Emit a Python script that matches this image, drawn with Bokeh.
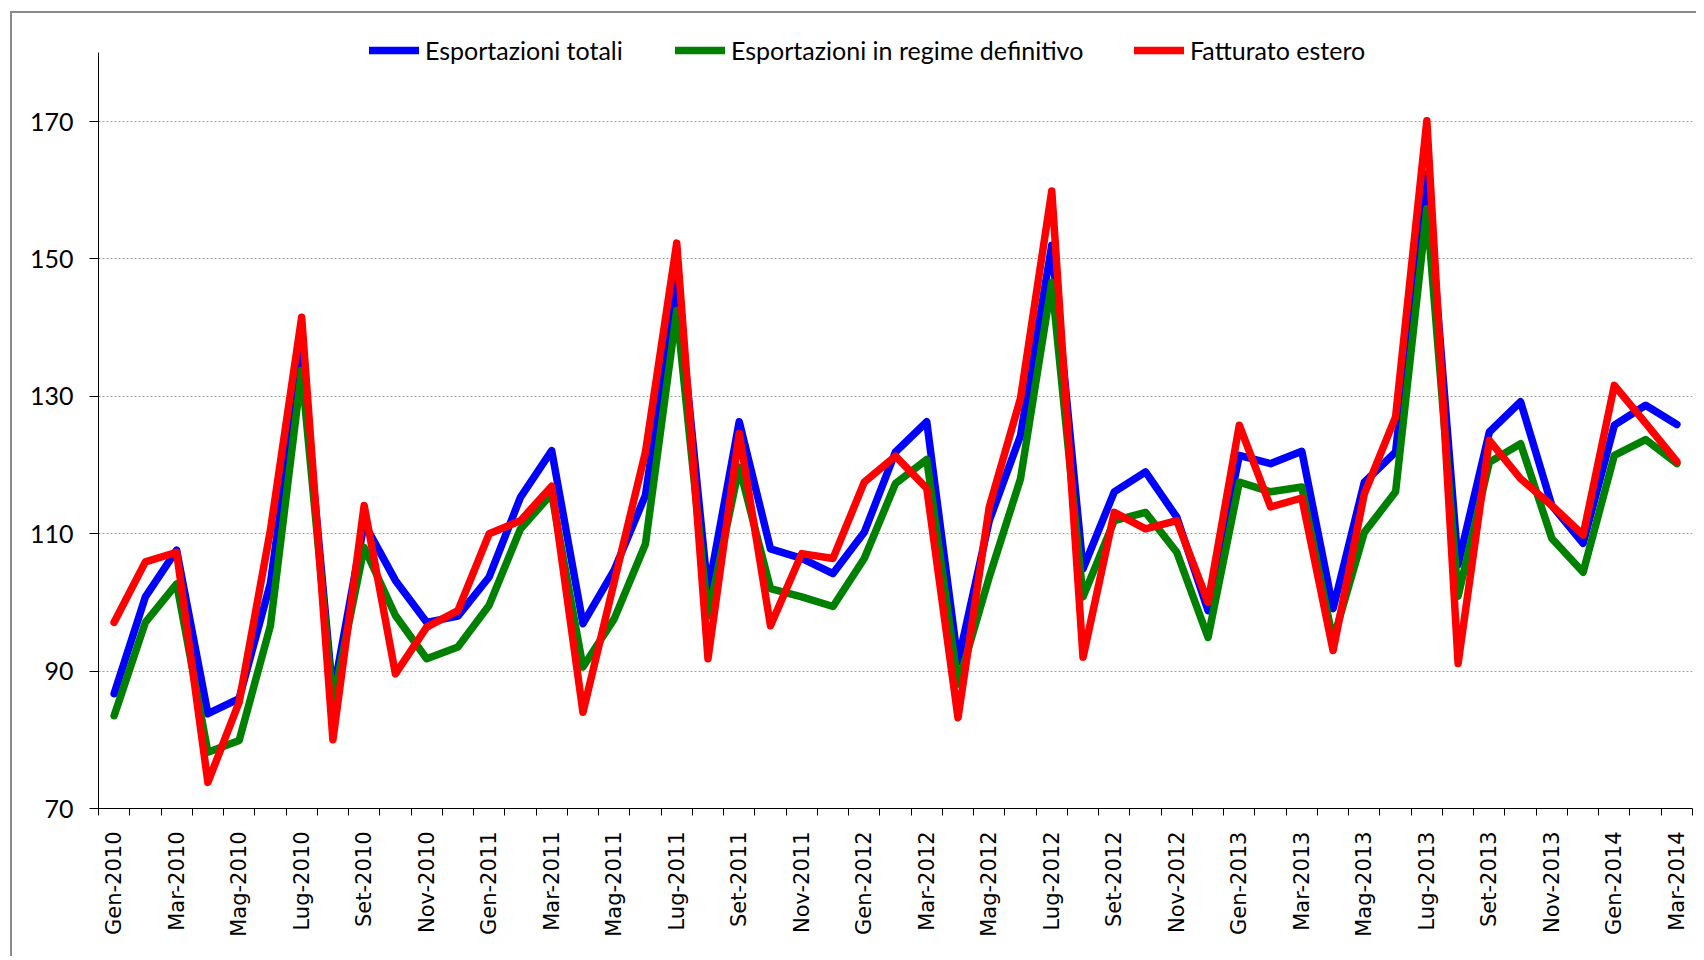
import numpy as np
from bokeh.plotting import figure
from bokeh.models import Range1d, FixedTicker, Legend, LegendItem
from bokeh.embed import file_html
from bokeh.resources import INLINE

# ---------------- data ----------------
month_names = ["Gen", "Feb", "Mar", "Apr", "Mag", "Giu",
               "Lug", "Ago", "Set", "Ott", "Nov", "Dic"]
years = [2010, 2011, 2012, 2013, 2014]
months = [f"{m}-{y}" for y in years for m in month_names][:51]

esportazioni_totali = [
    86.7, 100.8, 107.6, 83.8, 86.0, 102.8, 136.0, 86.5, 111.5, 103.2, 97.1, 98.0,
    103.7, 115.3, 122.1, 96.9, 104.7, 115.6, 146.9, 101.5, 126.3, 107.8, 106.4, 104.2,
    110.2, 121.9, 126.3, 91.3, 111.9, 124.3, 152.0, 104.9, 116.1, 119.0, 112.4, 98.8,
    121.4, 120.2, 122.0, 99.1, 117.5, 121.9, 162.4, 105.5, 124.8, 129.2, 114.1, 108.6,
    125.8, 128.7, 125.9]

esportazioni_definitivo = [
    83.5, 97.1, 102.7, 78.2, 79.9, 96.6, 133.8, 85.5, 108.0, 98.1, 91.8, 93.5,
    99.6, 110.7, 115.8, 90.6, 97.6, 108.5, 142.5, 98.0, 119.7, 102.0, 100.8, 99.4,
    106.4, 117.3, 120.8, 88.1, 103.7, 118.0, 146.6, 100.8, 111.9, 113.1, 107.3, 94.9,
    117.5, 116.1, 116.8, 94.5, 110.2, 116.1, 157.3, 100.9, 120.4, 123.1, 109.3, 104.4,
    121.4, 123.7, 120.2]

fatturato_estero = [
    97.1, 105.9, 107.3, 73.8, 85.5, 110.5, 141.5, 80.0, 114.1, 89.6, 96.4, 98.8,
    110.0, 111.9, 116.9, 84.0, 103.0, 121.9, 152.3, 91.8, 124.6, 96.6, 107.1, 106.4,
    117.5, 121.3, 116.6, 83.2, 113.9, 129.7, 159.9, 92.0, 113.1, 110.7, 111.9, 100.0,
    125.8, 113.9, 115.2, 93.0, 115.8, 127.0, 170.1, 91.1, 123.6, 118.0, 114.1, 109.8,
    131.6, 126.1, 120.5]

series_names = ["Esportazioni totali", "Esportazioni in regime definitivo", "Fatturato estero"]
series_colors = ["#0000FF", "#008000", "#FF0000"]
y_ticks = [70, 90, 110, 130, 150, 170]
y_min, y_max = 70, 180

# ---------------- figure ----------------
x = list(range(len(months)))

p = figure(width=1686, height=945,
           x_range=Range1d(-0.5, len(months) - 0.5),
           y_range=Range1d(y_min, 183.25),
           output_backend="svg", toolbar_location=None,
           min_border_left=86, min_border_right=6,
           min_border_top=17, min_border_bottom=150)
p.styles = {"margin-left": "10px", "margin-top": "11px",
            "border-left": "2px solid #8a8a8a", "border-top": "2px solid #8a8a8a"}
p.outline_line_color = None
p.background_fill_color = "white"
p.border_fill_color = "white"

# grid
p.xgrid.visible = False
p.ygrid.ticker = FixedTicker(ticks=y_ticks)
p.ygrid.grid_line_color = "#a0a0a0"
p.ygrid.grid_line_dash = "2 2"
p.ygrid.grid_line_width = 1

# y axis
p.yaxis.ticker = FixedTicker(ticks=y_ticks)
p.yaxis.bounds = (y_min, y_max)
p.yaxis.axis_line_color = "black"
p.yaxis.major_tick_line_color = "black"
p.yaxis.major_tick_out = 9
p.yaxis.major_tick_in = 0
p.yaxis.minor_tick_line_color = None
p.yaxis.major_label_text_font = "Lato"
p.yaxis.major_label_text_font_size = "25px"
p.yaxis.major_label_text_color = "black"
p.yaxis.major_label_standoff = 16

# x axis
label_idx = list(range(0, len(months), 2))
p.xaxis.ticker = FixedTicker(ticks=label_idx,
                             minor_ticks=[i - 0.5 for i in range(len(months) + 1)])
p.xaxis.major_label_overrides = {i: months[i] for i in label_idx}
p.xaxis.axis_line_color = "black"
p.xaxis.major_tick_out = 0
p.xaxis.major_tick_in = 0
p.xaxis.minor_tick_line_color = "black"
p.xaxis.minor_tick_out = 7
p.xaxis.minor_tick_in = 0
p.xaxis.major_label_orientation = np.pi / 2
p.xaxis.major_label_text_font = "DejaVu Sans"
p.xaxis.major_label_text_font_size = "21px"
p.xaxis.major_label_text_color = "black"
p.xaxis.major_label_standoff = 16

# lines
renderers = []
for vals, col in zip([esportazioni_totali, esportazioni_definitivo, fatturato_estero],
                     series_colors):
    r = p.line(x, vals, line_color=col, line_width=7.5,
               line_cap="round", line_join="round")
    renderers.append(r)

# legends (one per item, placed individually)
legend_x = [271, 577, 1036]
for name, r, lx in zip(series_names, renderers, legend_x):
    leg = Legend(items=[LegendItem(label=name, renderers=[r])],
                 location=(lx, 743), orientation="horizontal",
                 label_text_font="Lato", label_text_font_size="25px",
                 label_text_color="black",
                 glyph_width=50, glyph_height=24, label_height=24,
                 label_standoff=6, padding=0, margin=0, spacing=0,
                 border_line_color=None, background_fill_alpha=0)
    p.add_layout(leg)

open("out.html", "w").write(file_html(p, INLINE))
